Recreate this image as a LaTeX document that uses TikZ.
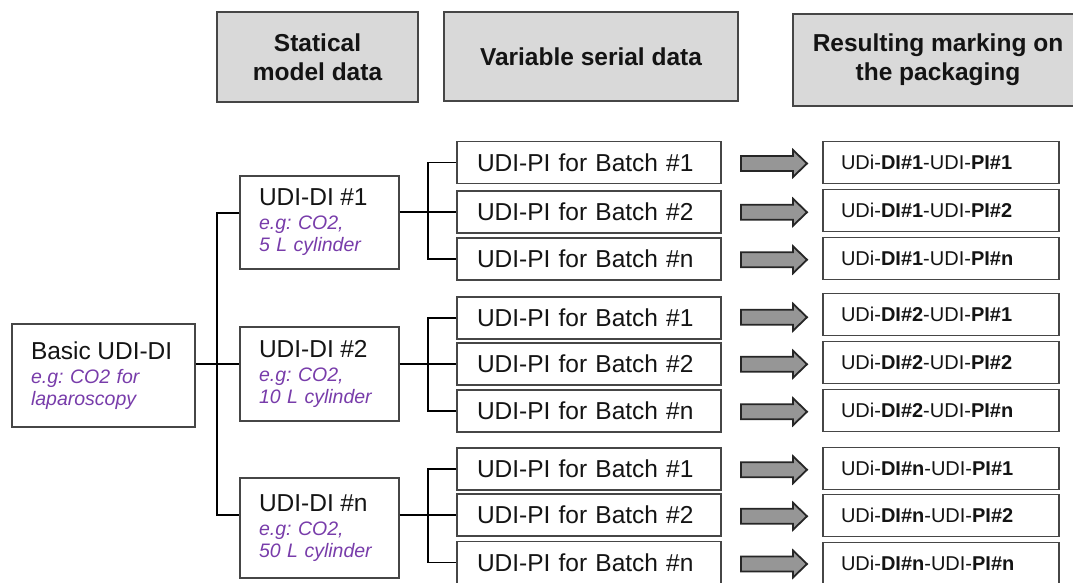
\documentclass[tikz,border=0pt]{standalone}
\usepackage{fontspec}
\setmainfont{Liberation Sans}
\usetikzlibrary{calc}
\definecolor{egpurple}{RGB}{120,60,170}
\definecolor{txt}{RGB}{20,20,20}
\definecolor{hdrfill}{RGB}{217,217,217}
\definecolor{bord}{RGB}{70,70,70}
\definecolor{arrfill}{RGB}{150,150,150}
\newcommand{\egf}{\color{egpurple}\itshape\fontsize{19.5}{22}\selectfont}
\newcommand{\bigf}{\fontsize{24.5}{28}\selectfont}
\frenchspacing
\begin{document}
\begin{tikzpicture}[x=1pt,y=-1pt,
  every node/.style={text=txt},
  hdr/.style={draw=bord, line width=1.4pt, fill=hdrfill, align=center, inner sep=0pt,
    font=\bfseries\fontsize{24.5}{29}\selectfont},
  pibox/.style={draw=bord, line width=1.3pt, fill=white, minimum height=42pt,
    inner xsep=20pt, inner ysep=0pt, text width=224pt, align=left, font=\bigf},
  resbox/.style={draw=bord, line width=1.3pt, fill=white, minimum height=42pt,
    inner xsep=18pt, inner ysep=0pt, text width=200pt, align=left,
    font=\fontsize{20}{24}\selectfont},
  dibox/.style={draw=bord, line width=1.3pt, fill=white, inner xsep=19pt, inner ysep=0pt,
    text width=121pt, align=left, font=\fontsize{19.5}{22}\selectfont},
  basicbox/.style={draw=bord, line width=1.3pt, fill=white, inner xsep=19pt, inner ysep=0pt,
    text width=145pt, align=left, font=\fontsize{19.5}{22}\selectfont},
  conn/.style={draw=black, line width=1.5pt},
  barrow/.style={draw=black!85, line width=1.8pt, fill=arrfill, line join=miter}
]
\useasboundingbox (0,0) rectangle (1073,583);

% header boxes
\node[hdr, minimum width=201pt, minimum height=90pt] (h1) at (317.5,57) {Statical\\model data};
\node[hdr, minimum width=294pt, minimum height=89pt] (h2) at (591,56.5) {Variable serial data};
\node[hdr, minimum width=290pt, minimum height=92pt] (h3) at (938,60) {Resulting marking on\\the packaging};

% basic and DI boxes
\node[basicbox, minimum height=103pt] (basic) at (103.5,375.5)
  {{\bigf Basic UDI-DI}\\[2pt]{\egf e.g: CO2 for}\\{\egf laparoscopy}};
\node[dibox, minimum height=93pt] (d1) at (319.5,222.5)
  {{\bigf UDI-DI \#1}\\[2pt]{\egf e.g: CO2,}\\{\egf 5 L cylinder}};
\node[dibox, minimum height=94pt] (d2) at (319.5,374)
  {{\bigf UDI-DI \#2}\\[2pt]{\egf e.g: CO2,}\\{\egf 10 L cylinder}};
\node[dibox, minimum height=100pt] (d3) at (319.5,528)
  {{\bigf UDI-DI \#n}\\[2pt]{\egf e.g: CO2,}\\{\egf 50 L cylinder}};

% batch and result boxes
\foreach \g/\dl/\ya/\yb/\yc/\ra/\rb/\rc in
  {1/1/162.5/212/259/162.5/210.5/258.5,
   2/2/318/364/411/314.5/362.5/410.5,
   3/n/469/515/562.5/468.5/515.5/563.5}{
  \node[pibox] (p\g1) at (589,\ya) {UDI-PI for Batch \#1};
  \node[pibox] (p\g2) at (589,\yb) {UDI-PI for Batch \#2};
  \node[pibox] (p\g3) at (589,\yc) {UDI-PI for Batch \#n};
  \node[resbox] (r\g1) at (941,\ra) {UDi-\textbf{DI\#\dl}-UDI-\textbf{PI\#1}};
  \node[resbox] (r\g2) at (941,\rb) {UDi-\textbf{DI\#\dl}-UDI-\textbf{PI\#2}};
  \node[resbox] (r\g3) at (941,\rc) {UDi-\textbf{DI\#\dl}-UDI-\textbf{PI\#n}};
}

% block arrows
\foreach \g in {1,2,3}{
  \foreach \i in {1,2,3}{
    \filldraw[barrow] ($(p\g\i.east)!.5!(r\g\i.west)+(-31,-6.5)$)
      -- ++(52,0) -- ++(0,-6) -- ++(14,13.5) -- ++(-14,13.5)
      -- ++(0,-6) -- ++(-52,0) -- cycle;
  }
}

% trunk connectors
\coordinate (j1) at (217,213);
\coordinate (j2) at (217,364);
\coordinate (j3) at (217,515);
\draw[conn] (d1.west |- j1) -- (j1) -- (j3) -- (d3.west |- j3);
\draw[conn] (basic.east |- j2) -- (d2.west |- j2);

% branch connectors
\coordinate (v) at (428,0);
\foreach \g in {1,2,3}{
  \draw[conn] (d\g.east |- p\g2.west) -- (p\g2.west);
  \draw[conn] (p\g1.west) -- (p\g1.west -| v) -- (p\g3.west -| v) -- (p\g3.west);
}
\end{tikzpicture}
\end{document}
